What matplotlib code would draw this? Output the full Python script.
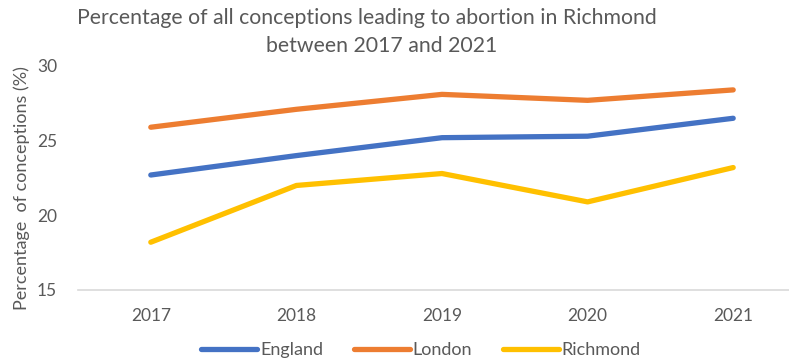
import matplotlib
matplotlib.use("Agg")
import matplotlib.pyplot as plt

years = ["2017", "2018", "2019", "2020", "2021"]
england = [22.7, 24.0, 25.2, 25.3, 26.5]
london = [25.9, 27.1, 28.1, 27.7, 28.4]
richmond = [18.2, 22.0, 22.8, 20.9, 23.2]
series_names = ["England", "London", "Richmond"]
y_ticks = [15, 20, 25, 30]

plt.rcParams["font.family"] = ["Lato", "DejaVu Sans"]
text_color = "#595959"

fig = plt.figure(figsize=(7.89, 3.63), dpi=100)
ax = fig.add_axes([78 / 789, 1 - 290 / 363, 728 / 789, 224 / 363])

x = list(range(len(years)))
colors = ["#4472C4", "#ED7D31", "#FFC000"]
for vals, name, c in zip([england, london, richmond], series_names, colors):
    ax.plot(x, vals, color=c, lw=3.8, solid_capstyle="round",
            solid_joinstyle="round", label=name)

ax.set_xlim(-0.5, len(years) - 0.5)
ax.set_ylim(15, 30)
ax.set_yticks(y_ticks)
ax.set_xticks(x)
ax.set_xticklabels(years)
ax.axhline(15, color="#D9D9D9", lw=1.2, zorder=0, clip_on=False)
for s in ax.spines.values():
    s.set_visible(False)
ax.tick_params(axis="both", length=0, labelsize=12.5, colors=text_color)
ax.tick_params(axis="y", pad=15)
ax.tick_params(axis="x", pad=13)

ax.set_ylabel("Percentage  of conceptions (%)", fontsize=13, color=text_color)
ax.yaxis.set_label_coords(-0.066, 0.455)

# two-line title, each line placed on its own
fig.text(367 / 789, 1 - 18 / 363,
         "Percentage of all conceptions leading to abortion in Richmond",
         ha="center", va="center", fontsize=15.3, color=text_color)
fig.text(382 / 789, 1 - 46 / 363, "between 2017 and 2021",
         ha="center", va="center", fontsize=15.3, color=text_color)

leg = fig.legend(loc="center", bbox_to_anchor=(421 / 789, 1 - 350 / 363), ncol=3,
                 frameon=False, fontsize=13, handlelength=3.1, columnspacing=1.7,
                 handletextpad=0.15, labelcolor=text_color)

fig.savefig("out.png", dpi=100)
